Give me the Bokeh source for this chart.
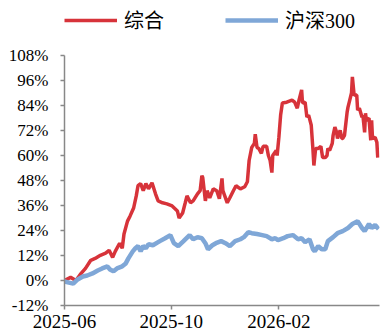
import pandas as pd
from bokeh.plotting import figure
from bokeh.models import (ColumnDataSource, Legend, LegendItem, FixedTicker,
                          DatetimeTickFormatter, PrintfTickFormatter, Range1d)
from bokeh.embed import file_html
from bokeh.resources import INLINE

# 综合 cumulative return (%)
composite_dates = [
    "2025-06-01", "2025-06-08", "2025-06-14", "2025-06-19", "2025-06-25", "2025-07-01",
    "2025-07-06", "2025-07-12", "2025-07-18", "2025-07-22", "2025-07-26", "2025-07-29",
    "2025-08-03", "2025-08-06", "2025-08-08", "2025-08-12", "2025-08-15", "2025-08-19",
    "2025-08-22", "2025-08-24", "2025-08-27", "2025-08-30", "2025-09-02", "2025-09-05",
    "2025-09-09", "2025-09-13", "2025-09-16", "2025-09-21", "2025-09-26", "2025-10-02",
    "2025-10-08", "2025-10-10", "2025-10-14", "2025-10-17", "2025-10-19", "2025-10-23",
    "2025-10-26", "2025-10-31", "2025-11-03", "2025-11-05", "2025-11-06", "2025-11-09",
    "2025-11-11", "2025-11-14", "2025-11-18", "2025-11-22", "2025-11-25", "2025-11-28",
    "2025-11-29", "2025-12-04", "2025-12-07", "2025-12-11", "2025-12-14", "2025-12-19",
    "2025-12-24", "2025-12-27", "2025-12-29", "2026-01-01", "2026-01-04", "2026-01-05",
    "2026-01-07", "2026-01-09", "2026-01-12", "2026-01-14", "2026-01-18", "2026-01-20",
    "2026-01-22", "2026-01-24", "2026-01-25", "2026-01-29", "2026-01-30", "2026-02-01",
    "2026-02-03", "2026-02-05", "2026-02-10", "2026-02-16", "2026-02-19", "2026-02-22",
    "2026-02-24", "2026-02-27", "2026-02-28", "2026-03-03", "2026-03-05", "2026-03-07",
    "2026-03-10", "2026-03-12", "2026-03-13", "2026-03-15", "2026-03-18", "2026-03-21",
    "2026-03-23", "2026-03-26", "2026-03-28", "2026-03-29", "2026-03-31", "2026-04-03",
    "2026-04-04", "2026-04-06", "2026-04-08", "2026-04-09", "2026-04-12", "2026-04-14",
    "2026-04-15", "2026-04-17", "2026-04-20", "2026-04-21", "2026-04-23", "2026-04-25",
    "2026-04-26", "2026-04-28", "2026-05-01", "2026-05-02", "2026-05-04", "2026-05-07",
    "2026-05-08", "2026-05-10", "2026-05-11", "2026-05-12", "2026-05-15", "2026-05-17",
    "2026-05-18", "2026-05-19", "2026-05-22", "2026-05-24", "2026-05-25",
]
composite_values = [
    0.0, 1.5, 0.0, 2.9, 5.8, 9.7,
    10.6, 12.1, 13.1, 14.5, 11.1, 14.0,
    17.9, 15.5, 22.3, 28.5, 31.0, 34.8,
    40.6, 45.5, 46.5, 43.1, 46.5, 44.0,
    46.9, 41.6, 38.2, 37.3, 36.8, 35.8,
    33.4, 30.0, 32.4, 37.3, 40.6, 37.3,
    38.2, 41.6, 43.1, 50.3, 49.4, 38.2,
    43.1, 39.7, 44.0, 43.1, 39.2, 49.0,
    43.1, 37.3, 39.7, 43.1, 45.5, 44.0,
    45.0, 47.4, 57.6, 63.9, 65.8, 70.2,
    63.9, 63.4, 61.0, 64.4, 64.4, 60.0,
    57.6, 51.8, 60.0, 62.4, 60.0, 68.7,
    79.4, 85.2, 85.6, 86.6, 85.6, 82.7,
    86.6, 91.5, 85.2, 85.6, 78.4, 79.4,
    74.5, 62.4, 55.2, 63.4, 63.4, 64.4,
    59.0, 59.0, 60.0, 63.4, 62.4, 65.8,
    69.7, 73.6, 71.1, 68.2, 72.1, 68.2,
    68.2, 69.7, 80.8, 83.2, 86.6, 90.0,
    97.7, 89.0, 89.0, 81.8, 82.7, 78.4,
    79.4, 71.1, 80.3, 76.9, 77.9, 67.3,
    76.9, 68.2, 68.7, 66.3, 59.0,
]

# 沪深300 cumulative return (%)
csi300_dates = [
    "2025-06-01", "2025-06-06", "2025-06-11", "2025-06-16", "2025-06-22", "2025-06-27",
    "2025-07-03", "2025-07-09", "2025-07-14", "2025-07-20", "2025-07-23", "2025-07-27",
    "2025-07-31", "2025-08-06", "2025-08-10", "2025-08-13", "2025-08-18", "2025-08-21",
    "2025-08-24", "2025-08-27", "2025-08-30", "2025-09-02", "2025-09-05", "2025-09-10",
    "2025-09-16", "2025-09-18", "2025-09-24", "2025-09-30", "2025-10-04", "2025-10-09",
    "2025-10-15", "2025-10-22", "2025-10-26", "2025-10-31", "2025-11-05", "2025-11-09",
    "2025-11-12", "2025-11-17", "2025-11-21", "2025-11-27", "2025-12-02", "2025-12-07",
    "2025-12-13", "2025-12-19", "2025-12-23", "2025-12-28", "2026-01-01", "2026-01-07",
    "2026-01-13", "2026-01-18", "2026-01-24", "2026-01-28", "2026-01-31", "2026-02-06",
    "2026-02-11", "2026-02-17", "2026-02-23", "2026-02-27", "2026-03-03", "2026-03-08",
    "2026-03-12", "2026-03-14", "2026-03-18", "2026-03-22", "2026-03-26", "2026-03-29",
    "2026-04-04", "2026-04-09", "2026-04-15", "2026-04-21", "2026-04-26", "2026-05-02",
    "2026-05-07", "2026-05-10", "2026-05-15", "2026-05-18", "2026-05-22", "2026-05-26",
]
csi300_values = [
    -0.5, -1.0, -1.5, 0.5, 1.9, 2.4,
    3.4, 4.8, 5.8, 6.8, 5.3, 4.4,
    5.8, 6.8, 8.2, 10.6, 14.0, 15.5,
    16.5, 14.0, 16.5, 15.5, 17.4, 16.9,
    18.4, 18.9, 20.3, 21.8, 17.9, 16.5,
    18.9, 21.8, 19.8, 20.8, 20.3, 17.9,
    15.0, 16.9, 17.9, 18.9, 17.9, 16.5,
    18.9, 19.8, 20.8, 23.2, 22.7, 22.3,
    21.8, 21.3, 19.8, 20.3, 19.4, 20.3,
    21.3, 21.8, 19.8, 20.3, 18.4, 19.8,
    15.0, 14.0, 16.5, 15.0, 15.0, 18.9,
    20.8, 22.7, 23.7, 25.2, 27.1, 28.5,
    25.2, 23.7, 27.1, 25.2, 26.6, 24.7,
]

y_ticks = [-12, 0, 12, 24, 36, 48, 60, 72, 84, 96, 108]
x_ticks = ["2025-06-01", "2025-10-01", "2026-02-01"]

RED = "#D7333A"
BLUE = "#7FA7D7"
AXIS = "#888888"
SERIF = "'Liberation Serif', 'Times New Roman', serif"

src_comp = ColumnDataSource(dict(date=pd.to_datetime(composite_dates), value=composite_values))
src_csi = ColumnDataSource(dict(date=pd.to_datetime(csi300_dates), value=csi300_values))

# The frame reaches the top of the canvas so the legend can sit above the 108% line;
# the y axis line itself is bounded to the tick range.
p = figure(width=387, height=336, output_backend="svg", toolbar_location=None,
           x_axis_type="datetime",
           x_range=Range1d(pd.Timestamp("2025-06-01"), pd.Timestamp("2026-05-27")),
           y_range=Range1d(-12, 134.4),
           min_border_left=64, min_border_right=8, min_border_top=0, min_border_bottom=31)
p.outline_line_color = None
p.xgrid.visible = False
p.ygrid.visible = False

r_comp = p.line("date", "value", source=src_comp, line_color=RED, line_width=3.5)
r_csi = p.line("date", "value", source=src_csi, line_color=BLUE, line_width=4.5)

p.yaxis.ticker = FixedTicker(ticks=y_ticks)
p.yaxis.formatter = PrintfTickFormatter(format="%d%%")
p.yaxis.bounds = (y_ticks[0], y_ticks[-1])
p.xaxis.ticker = FixedTicker(ticks=[pd.Timestamp(d).timestamp() * 1000 for d in x_ticks])
p.xaxis.formatter = DatetimeTickFormatter(months="%Y-%m", days="%Y-%m", years="%Y-%m")

for ax in (p.xaxis[0], p.yaxis[0]):
    ax.axis_line_color = AXIS
    ax.axis_line_width = 1.5
    ax.major_tick_line_color = AXIS
    ax.major_tick_line_width = 1.5
    ax.major_tick_out = 4
    ax.major_tick_in = 0
    ax.minor_tick_line_color = None
    ax.major_label_text_font = SERIF
    ax.major_label_text_color = "#000000"
p.yaxis.major_label_text_font_size = "17px"
p.yaxis.major_label_standoff = 12
p.xaxis.major_label_text_font_size = "19px"
p.xaxis.major_label_standoff = 5

legend = Legend(
    items=[LegendItem(label="综合", renderers=[r_comp]),
           LegendItem(label="沪深300", renderers=[r_csi])],
    orientation="horizontal", location=(0, 271),
    glyph_width=53, glyph_height=20, label_standoff=7, spacing=61,
    padding=0, margin=0, border_line_alpha=0, background_fill_alpha=0,
    label_text_font="'Liberation Serif', 'Noto Sans CJK SC', serif",
    label_text_font_size="20px", label_text_color="#000000",
)
p.add_layout(legend, "center")

open("out.html", "w").write(file_html(p, INLINE))
